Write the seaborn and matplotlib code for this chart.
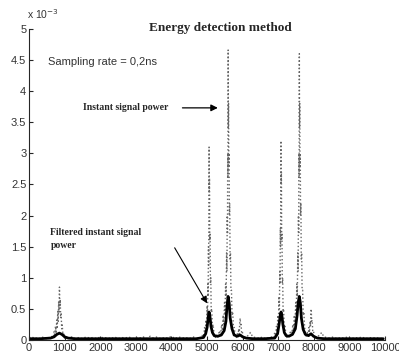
import numpy as np
import pandas as pd
import matplotlib
matplotlib.use("Agg")
import matplotlib.pyplot as plt
import seaborn as sns

sns.set_style("ticks")
plt.rcParams['font.family'] = ['Liberation Sans', 'DejaVu Sans']

# instant signal power (x 1e-3)
base_x = [0, 80, 160, 240, 320, 400, 480, 560,
          1100, 1200, 1300, 1400, 1500, 1600, 1700, 1800, 1900, 2000, 2100, 2200, 2300,
          2400, 2500, 2600, 2700, 2800, 2900, 3000, 3100, 3200, 3300, 3400, 3500, 3600,
          3700, 3800, 3900, 4000, 4100, 4200, 4300, 4400, 4500, 4600, 4700, 4800,
          5250,
          6100, 6160, 6220, 6280, 6350, 6420, 6500, 6580, 6660, 6740, 6820,
          8100, 8160, 8220, 8280, 8350, 8450, 8550, 8650, 8750, 8850, 8950, 9050,
          9150, 9250, 9350, 9450, 9550, 9650, 9750, 9850, 9950]
base_y = [0.03, 0.05, 0.02, 0.04, 0.02, 0.05, 0.02, 0.04,
          0.03, 0.05, 0.02, 0.04, 0.02, 0.05, 0.03, 0.04, 0.02, 0.05, 0.03, 0.04, 0.02,
          0.05, 0.02, 0.04, 0.03, 0.05, 0.02, 0.04, 0.03, 0.05, 0.02, 0.06, 0.03, 0.05,
          0.02, 0.04, 0.03, 0.06, 0.02, 0.05, 0.03, 0.04, 0.02, 0.05, 0.03, 0.04,
          0.06,
          0.04, 0.08, 0.12, 0.05, 0.04, 0.03, 0.05, 0.02, 0.04, 0.03, 0.05,
          0.05, 0.08, 0.12, 0.05, 0.04, 0.03, 0.05, 0.02, 0.04, 0.03, 0.05, 0.02,
          0.04, 0.03, 0.05, 0.02, 0.04, 0.03, 0.04, 0.02, 0.03]

p850_x = [620, 650, 675, 700, 720, 740, 760, 775, 790, 805, 818, 830, 842, 852,
          862, 874, 886, 900, 915, 930, 950, 970, 995, 1030]
p850_y = [0.03, 0.08, 0.03, 0.14, 0.06, 0.22, 0.1, 0.32, 0.18, 0.46, 0.3, 0.62, 0.45, 0.85,
          0.55, 0.65, 0.35, 0.42, 0.18, 0.24, 0.08, 0.12, 0.03, 0.04]

p5056_x = [4850, 4880, 4905, 4930, 4950, 4968, 4985, 5000, 5012, 5022, 5030, 5038, 5044,
           5050, 5056, 5062, 5068, 5076, 5084, 5094, 5104, 5116, 5130, 5148, 5170, 5200,
           5235]
p5056_y = [0.03, 0.1, 0.05, 0.2, 0.1, 0.32, 0.2, 0.55, 0.35, 0.9, 0.7, 1.5, 1.2,
           2.3, 3.1, 2.4, 2.6, 1.6, 1.7, 0.9, 1.0, 0.45, 0.5, 0.2, 0.25, 0.06, 0.04]

p5590_x = [5300, 5350, 5380, 5410, 5430, 5450, 5470, 5490, 5505, 5520, 5535, 5548, 5558,
           5566, 5574, 5580, 5586, 5592, 5598, 5604, 5610, 5618, 5626, 5636, 5646, 5658,
           5670, 5685, 5700, 5720, 5740, 5765, 5790]
p5590_y = [0.05, 0.15, 0.08, 0.25, 0.15, 0.4, 0.25, 0.6, 0.4, 0.9, 0.7, 1.4, 1.1,
           2.0, 1.7, 3.0, 2.6, 4.66, 3.4, 3.8, 2.8, 3.0, 2.0, 2.2, 1.3, 1.4,
           0.8, 0.8, 0.4, 0.45, 0.2, 0.2, 0.06]

p5930_x = [5820, 5850, 5870, 5890, 5905, 5918, 5930, 5942, 5955, 5970, 5990, 6010, 6040, 6070]
p5930_y = [0.04, 0.1, 0.06, 0.18, 0.1, 0.28, 0.35, 0.22, 0.25, 0.12, 0.14, 0.05, 0.06, 0.03]

p7080_x = [6870, 6900, 6925, 6950, 6970, 6988, 7005, 7020, 7032, 7042, 7050, 7058, 7064,
           7070, 7076, 7082, 7088, 7096, 7104, 7114, 7124, 7136, 7150, 7168, 7190, 7220,
           7260]
p7080_y = [0.03, 0.12, 0.06, 0.22, 0.12, 0.4, 0.25, 0.7, 0.5, 1.1, 0.9, 1.8, 1.5,
           2.6, 3.2, 2.5, 2.7, 1.6, 1.7, 0.9, 1.0, 0.45, 0.5, 0.2, 0.22, 0.06, 0.03]

p7590_x = [7300, 7350, 7380, 7410, 7430, 7450, 7470, 7490, 7505, 7520, 7535, 7548, 7558,
           7566, 7574, 7580, 7586, 7592, 7598, 7604, 7610, 7618, 7626, 7636, 7646, 7658,
           7670, 7685, 7700, 7720, 7740, 7765]
p7590_y = [0.05, 0.15, 0.08, 0.25, 0.15, 0.4, 0.25, 0.6, 0.4, 0.9, 0.7, 1.4, 1.1,
           2.0, 1.7, 3.0, 2.6, 4.6, 3.4, 3.8, 2.8, 3.0, 2.0, 2.2, 1.3, 1.4,
           0.8, 0.8, 0.4, 0.45, 0.2, 0.12]

p7920_x = [7785, 7815, 7840, 7860, 7878, 7893, 7906, 7916, 7926, 7938, 7952, 7968, 7988,
           8010, 8040, 8070]
p7920_y = [0.04, 0.12, 0.07, 0.2, 0.12, 0.3, 0.22, 0.42, 0.5, 0.3, 0.32, 0.15, 0.16,
           0.05, 0.06, 0.03]

# filtered instant signal power
filt_x = [0, 300, 600, 700, 780, 850, 920, 1000, 1100, 1300, 2000, 3000, 4000, 4700, 4900,
          4960, 5000, 5030, 5056, 5080, 5110, 5150, 5200, 5300, 5400, 5480, 5530, 5560,
          5590, 5620, 5650, 5700, 5760, 5850, 5930, 6000, 6100, 6300, 6600, 6900, 6980,
          7030, 7060, 7080, 7100, 7130, 7170, 7220, 7300, 7400, 7480, 7530, 7560, 7590,
          7620, 7650, 7700, 7760, 7850, 7920, 7990, 8100, 8300, 9000, 9950]
filt_y = [0.02, 0.02, 0.03, 0.05, 0.09, 0.11, 0.09, 0.05, 0.03, 0.02, 0.02, 0.02, 0.02,
          0.02, 0.04, 0.1, 0.2, 0.35, 0.45, 0.38, 0.22, 0.12, 0.07, 0.06, 0.08, 0.15, 0.3,
          0.55, 0.7, 0.6, 0.35, 0.18, 0.08, 0.06, 0.08, 0.05, 0.03, 0.02, 0.02, 0.03, 0.1,
          0.28, 0.42, 0.45, 0.4, 0.25, 0.12, 0.07, 0.06, 0.09, 0.18, 0.4, 0.6, 0.7, 0.6,
          0.35, 0.17, 0.09, 0.07, 0.1, 0.06, 0.03, 0.02, 0.02, 0.02]

inst = pd.DataFrame({
    "t": base_x + p850_x + p5056_x + p5590_x + p5930_x + p7080_x + p7590_x + p7920_x,
    "p": base_y + p850_y + p5056_y + p5590_y + p5930_y + p7080_y + p7590_y + p7920_y,
}).sort_values("t")
filt = pd.DataFrame({"t": filt_x, "p": filt_y})

fig = plt.figure(figsize=(3.99, 3.56), dpi=100)
ax = fig.add_axes([0.073, 0.045, 0.892, 0.874])

sns.lineplot(data=inst, x="t", y="p", ax=ax, estimator=None, sort=False,
             color="#666666", linestyle=":", linewidth=1.0)
sns.lineplot(data=filt, x="t", y="p", ax=ax, estimator=None,
             color="black", linewidth=2.0)

ax.set_xlim(0, 10000)
ax.set_ylim(0, 5)
ax.set_xticks(np.arange(0, 10001, 1000))
ax.set_yticks(np.arange(0, 5.01, 0.5))
ax.set_yticklabels(["0", "0.5", "1", "1.5", "2", "2.5", "3", "3.5", "4", "4.5", "5"])
ax.set_xlabel("")
ax.set_ylabel("")
ax.tick_params(direction="in", length=3, labelsize=8, labelcolor="#333333", pad=2)
sns.despine(ax=ax)

serif = ['Liberation Serif', 'DejaVu Serif']
fig.text(0.553, 0.922, "Energy detection method", family=serif, weight="bold",
         fontsize=9.5, ha="center", va="center")
ax.text(-0.005, 1.025, r"x 10$^{-3}$", transform=ax.transAxes, fontsize=7.5,
        color="#333333", ha="left", va="bottom")
ax.text(530, 4.47, "Sampling rate = 0,2ns", fontsize=8, color="#333333", va="center")
ax.text(1500, 3.73, "Instant signal power", family=serif, weight="bold",
        fontsize=7, va="center")
ax.annotate("", xy=(5380, 3.73), xytext=(4230, 3.73),
            arrowprops=dict(arrowstyle="-|>", color="black", lw=0.9, mutation_scale=10))
ax.text(600, 1.62, "Filtered instant signal\npower", family=serif, weight="bold",
        fontsize=7, va="center", linespacing=1.6)
ax.annotate("", xy=(5040, 0.55), xytext=(4050, 1.52),
            arrowprops=dict(arrowstyle="-|>", color="black", lw=0.8, mutation_scale=10))

fig.savefig("out.png", dpi=100)
